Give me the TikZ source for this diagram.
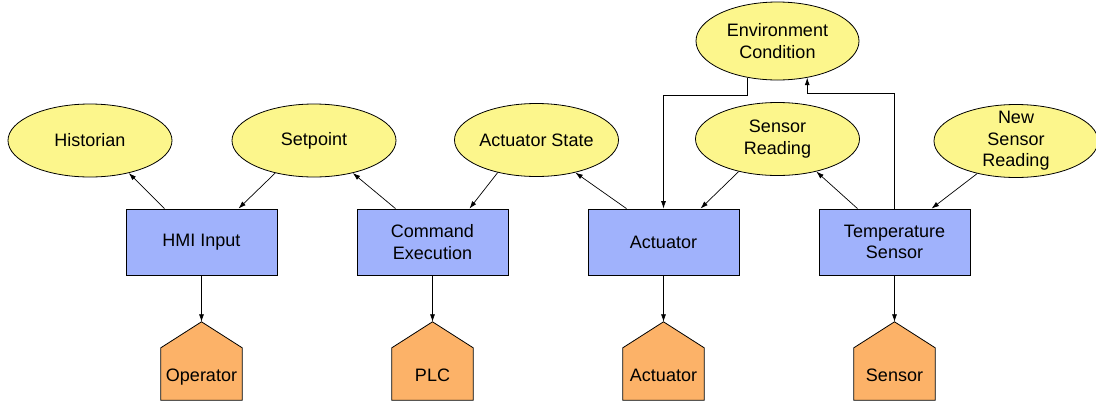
\documentclass[tikz,border=0pt]{standalone}
\usepackage{fontspec}
\setmainfont{Liberation Sans}
\usetikzlibrary{shapes.geometric,arrows.meta,calc}
\definecolor{ovalfill}{RGB}{252,246,140}
\definecolor{boxfill}{RGB}{160,178,252}
\definecolor{housefill}{RGB}{252,178,104}
\begin{document}
\begin{tikzpicture}[x=1pt,y=-1pt,
  every node/.style={font=\fontsize{18}{21.5}\selectfont},
  oval/.style={ellipse,draw,fill=ovalfill,line width=0.8pt,minimum width=164pt,minimum height=73pt,inner sep=0pt},
  txt/.style={align=center,inner sep=0pt},
  unit/.style={rectangle,draw,fill=boxfill,line width=0.8pt,minimum width=151pt,minimum height=66pt,inner sep=0pt,align=center},
  housebox/.style={rectangle,minimum width=81pt,minimum height=78pt,inner sep=0pt},
  houseshape/.style={fill=housefill,draw,line width=0.8pt,line join=miter},
  link/.style={line width=0.7pt,-{Latex[length=7.5pt,width=5pt]}}
]
\useasboundingbox (0,0) rectangle (1096,405);

% data items
\node[oval] (hist) at (90,140.5) {};
\node[txt] (hist-t) at (hist) {Historian};
\node[oval] (setp) at (314,140.5) {};
\node[txt] (setp-t) at (setp) {Setpoint};
\node[oval] (ast) at (536.5,140) {};
\node[txt] (ast-t) at (ast) {Actuator State};
\node[oval] (srd) at (777.5,139) {};
\node[txt] (srd-t) at (srd) {Sensor\\Reading};
\node[oval] (nsr) at (1016,141) {};
\node[txt] (nsr-t) at (nsr) {New\\Sensor\\Reading};
\node[oval,minimum width=163pt,minimum height=78pt] (env) at (777.5,41) {};
\node[txt] (env-t) at (env) {Environment\\Condition};

% processes
\node[unit] (hmi) at (201.5,242) {HMI Input};
\node[unit] (cmd) at (432.5,242) {Command\\Execution};
\node[unit] (act) at (663.5,242) {Actuator};
\node[unit] (ts)  at (894.5,242) {Temperature\\Sensor};

% external entities (house shapes)
\foreach \name/\x/\label in {op/201.5/Operator, plc/432.5/PLC, acth/663.5/Actuator, sens/894.5/Sensor}{
  \node[housebox] (\name) at (\x,361) {};
  \draw[houseshape] (\name.north) -- ($(\name.north east)+(0,26)$) -- (\name.south east)
     -- (\name.south west) -- ($(\name.north west)+(0,26)$) -- cycle;
  \node[txt,anchor=base] (\name-t) at ($(\name.south)+(0,-19)$) {\label};
}

% flows between processes and data items
\draw[link] ($(hmi.north)+(-37,0)$) -- (hist.-40);
\draw[link] (setp.-140) -- ($(hmi.north)+(37,0)$);
\draw[link] ($(cmd.north)+(-37,0)$) -- (setp.-40);
\draw[link] (ast.-140) -- ($(cmd.north)+(37,0)$);
\draw[link] ($(act.north)+(-37,0)$) -- (ast.-40);
\draw[link] (srd.-140) -- ($(act.north)+(37,0)$);
\draw[link] ($(ts.north)+(-37,0)$) -- (srd.-40);
\draw[link] (nsr.-140) -- ($(ts.north)+(37,0)$);

% environment loop
\draw[link] (env.-129) -- ++(0,17.6) -| (act.north);
\draw[link] (ts.north) -- ++(0,-115) -| (env.-51);

% flows to external entities
\draw[link] (hmi.south) -- (op.north);
\draw[link] (cmd.south) -- (plc.north);
\draw[link] (act.south) -- (acth.north);
\draw[link] (ts.south) -- (sens.north);
\end{tikzpicture}
\end{document}
